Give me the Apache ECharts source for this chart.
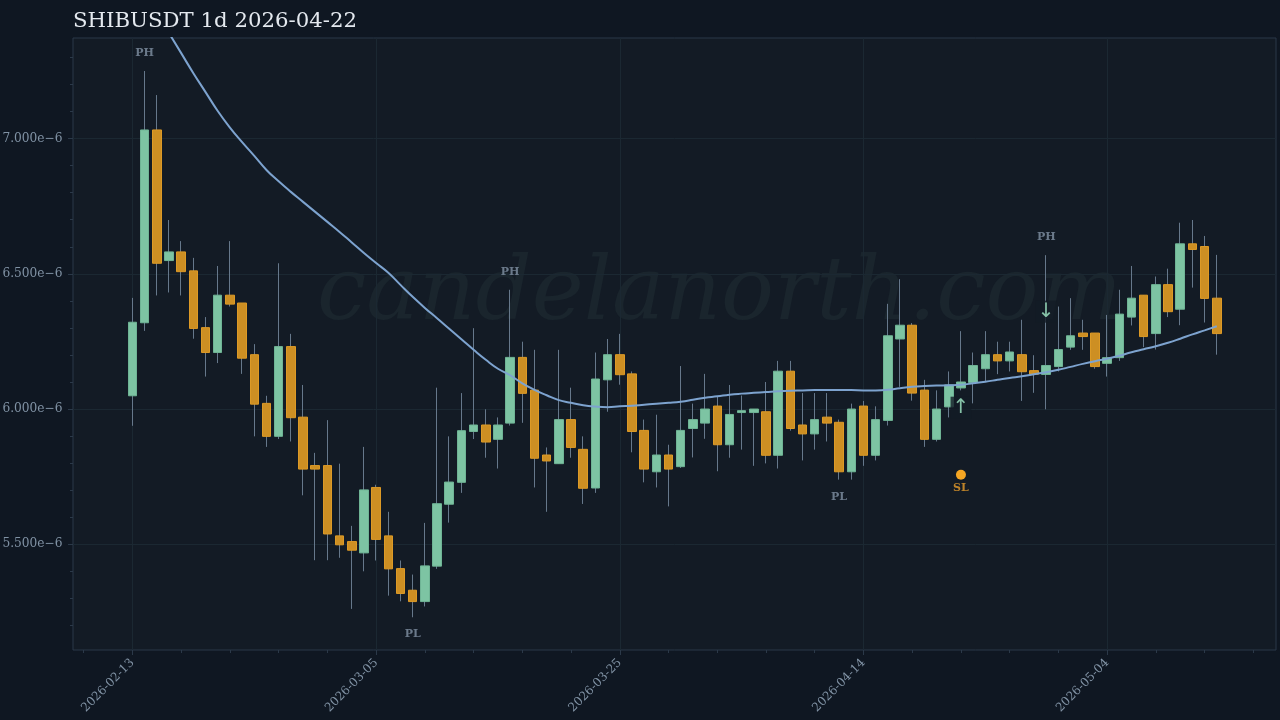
<!DOCTYPE html>
<html>
<head>
<meta charset="utf-8">
<title>SHIBUSDT 1d</title>
<style>
html, body { margin: 0; padding: 0; background: #0f1722; }
#chart { width: 1280px; height: 720px; }
</style>
<script src="https://cdn.jsdelivr.net/npm/echarts@6/dist/echarts.min.js"></script>
</head>
<body>
<div id="chart"></div>
<script>
// prices are in units of 1e-6, x is the day number counted from the first candle
var opens = [
    6.049,6.319,7.032,6.549,6.581,6.511,6.301,6.209,6.421,6.392,
    6.201,6.021,5.899,6.231,5.970,5.791,5.791,5.531,5.510,5.468,
    5.710,5.531,5.410,5.330,5.288,5.419,5.648,5.729,5.917,5.941,
    5.888,5.948,6.191,6.070,5.830,5.798,5.961,5.851,5.708,6.108,
    6.201,6.130,5.921,5.768,5.830,5.787,5.928,5.948,6.011,5.868,
    5.987,5.987,5.990,5.829,6.140,5.941,5.908,5.970,5.951,5.768,
    6.011,5.829,5.958,6.259,6.310,6.070,5.888,6.008,6.078,6.098,
    6.149,6.201,6.178,6.201,6.142,6.128,6.157,6.229,6.281,6.281,
    6.169,6.190,6.340,6.421,6.279,6.460,6.369,6.611,6.601,6.410
];
var closes = [
    6.321,7.032,6.539,6.581,6.508,6.298,6.209,6.421,6.388,6.188,
    6.018,5.899,6.231,5.968,5.778,5.778,5.538,5.498,5.478,5.701,
    5.518,5.409,5.318,5.288,5.420,5.650,5.730,5.920,5.941,5.878,
    5.941,6.191,6.058,5.818,5.808,5.961,5.858,5.707,6.111,6.201,
    6.127,5.917,5.778,5.830,5.778,5.921,5.961,6.000,5.868,5.980,
    5.994,6.000,5.829,6.140,5.928,5.908,5.961,5.948,5.768,6.000,
    5.829,5.961,6.271,6.310,6.059,5.888,6.000,6.089,6.100,6.161,
    6.201,6.178,6.211,6.138,6.129,6.161,6.220,6.271,6.268,6.157,
    6.190,6.351,6.410,6.268,6.460,6.360,6.611,6.590,6.409,6.279
];
var lows = [
    5.938,6.289,6.420,6.431,6.420,6.260,6.120,6.170,6.379,6.130,
    5.899,5.860,5.889,5.880,5.681,5.441,5.441,5.450,5.261,5.400,
    5.440,5.310,5.289,5.230,5.270,5.409,5.580,5.690,5.889,5.820,
    5.780,5.939,5.949,5.710,5.620,5.798,5.820,5.649,5.690,5.990,
    6.090,5.840,5.729,5.710,5.640,5.782,5.821,5.890,5.770,5.820,
    5.850,5.790,5.799,5.780,5.920,5.810,5.850,5.880,5.739,5.739,
    5.790,5.810,5.939,6.082,6.031,5.860,5.880,5.969,6.069,6.021,
    6.100,6.129,6.139,6.030,6.060,5.999,6.139,6.219,6.219,6.149,
    6.120,6.178,6.309,6.229,6.220,6.340,6.310,6.449,6.320,6.201
];
var highs = [
    6.411,7.250,7.161,6.699,6.621,6.559,6.340,6.529,6.621,6.392,
    6.240,6.049,6.539,6.278,6.089,5.838,5.959,5.798,5.568,5.860,
    5.720,5.620,5.440,5.388,5.579,6.079,5.899,6.059,6.299,5.999,
    5.969,6.441,6.249,6.219,5.858,6.219,6.079,5.899,6.209,6.259,
    6.278,6.139,5.961,5.979,5.868,6.159,6.020,6.130,6.047,6.089,
    6.050,6.000,6.100,6.178,6.178,6.059,6.059,6.059,5.961,6.020,
    6.030,6.010,6.389,6.480,6.318,6.108,6.069,6.139,6.288,6.209,
    6.288,6.249,6.249,6.330,6.199,6.569,6.379,6.410,6.330,6.281,
    6.348,6.441,6.529,6.421,6.490,6.519,6.689,6.699,6.640,6.570
];
// moving average, the first days are above the top of the plot
var maValues = [
    null,null,null,7.390,7.316,7.242,7.172,7.102,7.041,6.987,
    6.936,6.884,6.842,6.803,6.766,6.729,6.692,6.655,6.616,6.577,
    6.540,6.504,6.459,6.415,6.374,6.336,6.297,6.258,6.219,6.182,
    6.149,6.125,6.095,6.071,6.051,6.033,6.023,6.014,6.009,6.007,
    6.010,6.012,6.016,6.020,6.023,6.027,6.034,6.042,6.047,6.053,
    6.057,6.060,6.063,6.066,6.068,6.069,6.070,6.070,6.070,6.070,
    6.069,6.069,6.071,6.077,6.082,6.085,6.087,6.088,6.090,6.095,
    6.101,6.108,6.115,6.121,6.129,6.136,6.145,6.156,6.167,6.177,
    6.186,6.197,6.210,6.221,6.232,6.245,6.260,6.276,6.291,6.306
];

var xTickDays = [0, 20, 40, 60, 80];
var xTickLabels = ['2026-02-13', '2026-03-05', '2026-03-25', '2026-04-14', '2026-05-04'];
var xMinorDays = [-4,0,4,8,12,16,20,24,28,32,36,40,44,48,52,56,60,64,68,72,76,80,84,88,92];
var yTicks = [5.5, 6.0, 6.5, 7.0];
var yMinorTicks = [5.2,5.3,5.4,5.5,5.6,5.7,5.8,5.9,6.0,6.1,6.2,6.3,6.4,6.5,6.6,6.7,6.8,6.9,7.0,7.1,7.2,7.3];

// markers: [day, price, text]
var pivotMarks = [[1, 7.316, 'PH'], [31, 6.507, 'PH'], [75, 6.637, 'PH'], [23, 5.166, 'PL'], [58, 5.676, 'PL']];
var slLabelMarks = [[68, 5.709, 'SL']];
var slDotMarks = [[68, 5.757]];
var arrowMarks = [[68, 6.005, '↑'], [75, 6.360, '↓']];

var xMin = -4.88, xMax = 93.86, yMin = 5.109, yMax = 7.372;
var SERIF = '"DejaVu Serif", serif';
var PLOT_BG = '#131b25';
var TICK_COLOR = '#2b3949';
var GRID_COLOR = '#1b2832';
var LABEL_COLOR = '#8092a4';
var WICK_COLOR = '#66788b';

var wickData = [], bodyData = [], maData = [];
for (var i = 0; i < opens.length; i++) {
    wickData.push([i, opens[i], closes[i], lows[i], highs[i]]);
    bodyData.push([i, opens[i], closes[i], Math.min(opens[i], closes[i]), Math.max(opens[i], closes[i])]);
    maData.push([i, maValues[i]]);
}

function markLabel(color, size) {
    return {
        show: true,
        position: 'inside',
        fontFamily: SERIF,
        fontWeight: 'bold',
        fontSize: size,
        color: color,
        formatter: function (p) { return p.value[2]; }
    };
}

var chart = echarts.init(document.getElementById('chart'), null, { renderer: 'canvas' });
chart.setOption({
    animation: false,
    backgroundColor: '#0f1722',
    textStyle: { fontFamily: SERIF },
    title: {
        text: 'SHIBUSDT 1d 2026-04-22',
        left: 73,
        top: 11,
        padding: 0,
        textStyle: { color: '#e4e9ef', fontFamily: SERIF, fontWeight: 'normal', fontSize: 21.25 }
    },
    grid: {
        show: true,
        left: 73, top: 38, right: 4, bottom: 70,
        outerBoundsMode: 'none',
        backgroundColor: PLOT_BG,
        borderColor: '#2a3848',
        borderWidth: 1
    },
    graphic: [{
        type: 'text',
        left: 317,
        top: 252,
        z: 0,
        silent: true,
        style: {
            text: 'candelanorth.com',
            fill: '#1a252d',
            font: 'italic 88px "DejaVu Serif", serif'
        }
    }],
    xAxis: [{
        type: 'value',
        min: xMin, max: xMax,
        position: 'bottom',
        axisLine: { show: false, onZero: false },
        axisTick: { show: true, length: 5, customValues: xTickDays, lineStyle: { color: TICK_COLOR } },
        axisLabel: {
            show: true,
            customValues: xTickDays,
            rotate: 45,
            margin: 11,
            fontSize: 12,
            fontFamily: SERIF,
            color: LABEL_COLOR,
            formatter: function (v) { return xTickLabels[xTickDays.indexOf(v)]; }
        },
        splitLine: { show: true, lineStyle: { color: GRID_COLOR, width: 1 } }
    }, {
        type: 'value',
        min: xMin, max: xMax,
        position: 'bottom',
        axisLine: { show: false, onZero: false },
        axisTick: { show: true, length: 3, customValues: xMinorDays, lineStyle: { color: TICK_COLOR } },
        axisLabel: { show: false },
        splitLine: { show: false }
    }],
    yAxis: [{
        type: 'value',
        min: yMin, max: yMax,
        position: 'left',
        axisLine: { show: false, onZero: false },
        axisTick: { show: true, length: 5, customValues: yTicks, lineStyle: { color: TICK_COLOR } },
        axisLabel: {
            show: true,
            customValues: yTicks,
            margin: 10.5,
            padding: [2, 0, 0, 0],
            fontSize: 12.2,
            fontFamily: SERIF,
            color: LABEL_COLOR,
            formatter: function (v) { return v.toFixed(3) + 'e\u22126'; }
        },
        splitLine: { show: true, lineStyle: { color: GRID_COLOR, width: 1 } }
    }, {
        type: 'value',
        min: yMin, max: yMax,
        position: 'left',
        axisLine: { show: false, onZero: false },
        axisTick: { show: true, length: 3, customValues: yMinorTicks, lineStyle: { color: TICK_COLOR } },
        axisLabel: { show: false },
        splitLine: { show: false }
    }],
    series: [{
        // wicks, drawn under the bodies in their own colour
        name: 'wick',
        type: 'candlestick',
        barWidth: 1,
        z: 3,
        silent: true,
        data: wickData,
        itemStyle: {
            color: WICK_COLOR, color0: WICK_COLOR,
            borderColor: WICK_COLOR, borderColor0: WICK_COLOR,
            borderWidth: 1
        }
    }, {
        name: 'body',
        type: 'candlestick',
        barWidth: 9,
        z: 4,
        silent: true,
        data: bodyData,
        itemStyle: {
            color: '#7dc4a3', color0: '#cd8f23',
            borderColor: '#6fb495', borderColor0: '#dd9a26',
            borderWidth: 1
        }
    }, {
        name: 'ma',
        type: 'line',
        z: 5,
        silent: true,
        showSymbol: false,
        symbol: 'none',
        smooth: 0.5,
        connectNulls: false,
        data: maData,
        lineStyle: { color: '#7da3cf', width: 2 }
    }, {
        name: 'pivots',
        type: 'scatter',
        z: 6,
        silent: true,
        symbolSize: 1,
        itemStyle: { color: 'rgba(0,0,0,0)' },
        data: pivotMarks,
        label: markLabel('#8292a5', 11)
    }, {
        name: 'slLabel',
        type: 'scatter',
        z: 6,
        silent: true,
        symbolSize: 1,
        itemStyle: { color: 'rgba(0,0,0,0)' },
        data: slLabelMarks,
        label: markLabel('#e89d2a', 11)
    }, {
        name: 'slDot',
        type: 'scatter',
        z: 6,
        silent: true,
        symbolSize: 10,
        itemStyle: { color: '#f5a623', opacity: 1 },
        data: slDotMarks
    }, {
        name: 'arrows',
        type: 'scatter',
        z: 6,
        silent: true,
        symbolSize: 1,
        itemStyle: { color: 'rgba(0,0,0,0)' },
        data: arrowMarks,
        label: {
            show: true,
            position: 'inside',
            fontFamily: '"DejaVu Sans", sans-serif',
            fontSize: 20,
            color: '#a3ecc8',
            backgroundColor: PLOT_BG,
            padding: [1, 2],
            formatter: function (p) { return p.value[2]; }
        }
    }]
});
</script>
</body>
</html>
